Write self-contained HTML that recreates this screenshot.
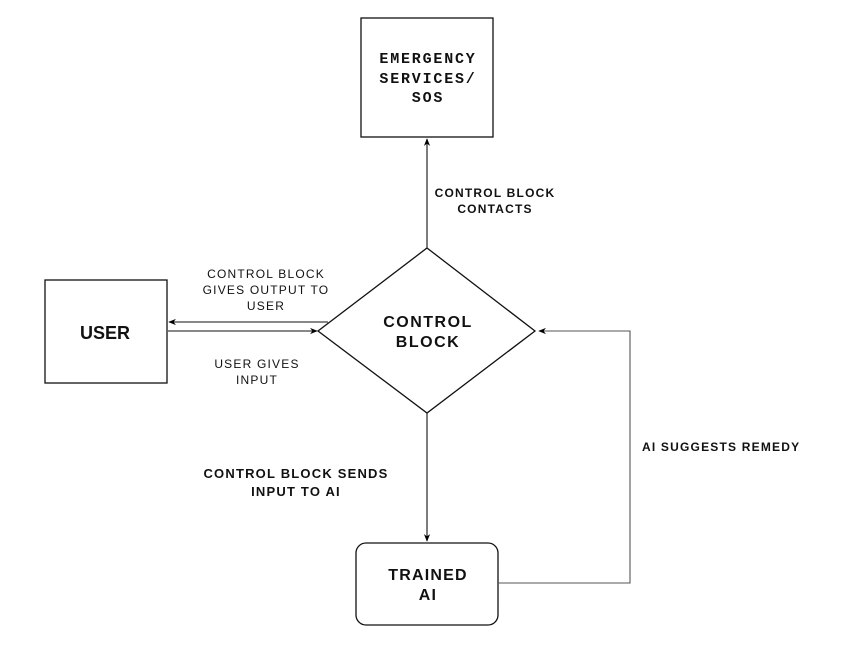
<!DOCTYPE html>
<html><head><meta charset="utf-8"><style>
body{margin:0;background:#fff;width:862px;height:661px;overflow:hidden}
svg text{font-family:"Liberation Sans",sans-serif}
</style></head><body>
<svg width="862" height="661" viewBox="0 0 862 661" xmlns="http://www.w3.org/2000/svg">
<defs><marker id="a" viewBox="0 0 10 10" refX="9" refY="5" markerWidth="7" markerHeight="7" orient="auto"><path d="M0,1 L10,5 L0,9 L3,5 Z" fill="#000"/></marker></defs>
<g fill="none" stroke="#111" stroke-width="1.3">
<rect x="361" y="18" width="132" height="119"/>
<rect x="45" y="280" width="122" height="103"/>
<path d="M427,248 L535,331 L427,413 L318,331 Z"/>
<rect x="356" y="543" width="142" height="82" rx="10"/>
</g>
<g stroke="#111" stroke-width="1.1" fill="none">
<line x1="427" y1="248" x2="427" y2="139" marker-end="url(#a)"/>
<line x1="328" y1="322" x2="169" y2="322" marker-end="url(#a)"/>
<line x1="168" y1="331" x2="317" y2="331" marker-end="url(#a)"/>
<line x1="427" y1="413" x2="427" y2="541" marker-end="url(#a)"/>
<polyline points="498,583 630,583 630,331 539,331" stroke="#555" marker-end="url(#a)"/>
</g>
<g font-weight="bold" font-size="15" text-anchor="middle" fill="#111" letter-spacing="1.8">
<text x="428" y="63" style="font-family:'Liberation Mono',monospace">EMERGENCY</text>
<text x="428" y="83" style="font-family:'Liberation Mono',monospace">SERVICES/</text>
<text x="428" y="102" style="font-family:'Liberation Mono',monospace">SOS</text>
</g>
<g font-weight="bold" text-anchor="middle" fill="#111">
<text x="105" y="339" font-size="18">USER</text>
<text x="428" y="327" font-size="16" letter-spacing="1.5">CONTROL</text>
<text x="428" y="347" font-size="16" letter-spacing="1.5">BLOCK</text>
<text x="428" y="580" font-size="16" letter-spacing="1.2">TRAINED</text>
<text x="428" y="600" font-size="16" letter-spacing="1.2">AI</text>
</g>
<g font-weight="bold" fill="#111" font-size="12" letter-spacing="1.2">
<text x="495" y="197" text-anchor="middle">CONTROL BLOCK</text>
<text x="495" y="213" text-anchor="middle">CONTACTS</text>
<text x="642" y="451">AI SUGGESTS  REMEDY</text>
</g>
<g font-weight="bold" fill="#111" font-size="13" letter-spacing="1.2" text-anchor="middle">
<text x="296" y="478">CONTROL BLOCK SENDS</text>
<text x="296" y="496">INPUT TO AI</text>
</g>
<g text-anchor="middle" fill="#111" font-size="12" letter-spacing="1.2">
<text x="266" y="278">CONTROL BLOCK</text>
<text x="266" y="294">GIVES OUTPUT TO</text>
<text x="266" y="310">USER</text>
<text x="257" y="368">USER GIVES</text>
<text x="257" y="384">INPUT</text>
</g>
</svg>
</body></html>
